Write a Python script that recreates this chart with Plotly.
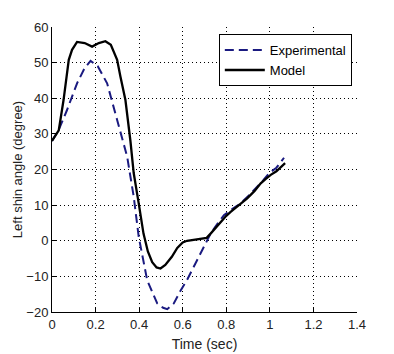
import plotly.graph_objects as go

# experimental (dashed) curve
exp_t = [0, 0.03, 0.069, 0.115, 0.15, 0.177, 0.21, 0.253, 0.299, 0.345, 0.375, 0.398,
         0.437, 0.483, 0.51, 0.529, 0.559, 0.59, 0.62, 0.65, 0.682, 0.728, 0.76, 0.789,
         0.83, 0.866, 0.9, 0.943, 0.97, 0.996, 1.03, 1.065]
exp_y = [28, 31, 36.7, 44.2, 48.5, 50.5, 49, 44.2, 33.9, 23.6, 12.4, 1.1,
         -11.1, -17.6, -18.8, -19.2, -17.6, -14, -11, -7.5, -3.5, 2, 4.8, 7.2,
         9, 10.5, 12.5, 15.2, 17, 18.9, 20.5, 23.3]

# model (solid) curve
mod_t = [0, 0.031, 0.053, 0.077, 0.092, 0.115, 0.15, 0.184, 0.215, 0.245, 0.27, 0.299,
         0.314, 0.337, 0.36, 0.375, 0.398, 0.42, 0.44, 0.46, 0.48, 0.498, 0.52, 0.55,
         0.575, 0.6, 0.62, 0.65, 0.682, 0.71, 0.728, 0.75, 0.774, 0.8, 0.82, 0.86,
         0.896, 0.93, 0.958, 0.98, 1.004, 1.03, 1.07]
mod_y = [28, 31, 39.5, 50.8, 53.6, 55.8, 55.5, 54.5, 55.5, 56, 55, 50.8,
         46.1, 39.5, 28, 19, 10.5, 2, -3, -6, -7.5, -7.8, -6.8, -4.5,
         -2, -0.5, 0, 0.3, 0.45, 0.8, 2, 3.5, 5.3, 7, 8.1, 10,
         11.9, 14, 16.1, 17.3, 18.5, 19.5, 21.8]

x_ticks = [0, 0.2, 0.4, 0.6, 0.8, 1, 1.2, 1.4]
x_labels = ["0", "0.2", "0.4", "0.6", "0.8", "1", "1.2", "1.4"]
y_ticks = [-20, -10, 0, 10, 20, 30, 40, 50, 60]

fig = go.Figure()
fig.add_trace(go.Scatter(x=exp_t, y=exp_y, mode="lines", name="Experimental",
                         line=dict(color="#1a1a80", width=2, dash="9px,5px")))
fig.add_trace(go.Scatter(x=mod_t, y=mod_y, mode="lines", name="Model",
                         line=dict(color="black", width=2.3)))

axis_font = dict(family="Liberation Sans, Arial", size=13, color="#222")
fig.update_xaxes(range=[0, 1.4], tickvals=x_ticks, ticktext=x_labels,
                 showgrid=True, gridcolor="black", griddash="1px,3px", gridwidth=1,
                 showline=True, linecolor="black", linewidth=1,
                 ticks="inside", ticklen=4, tickcolor="black",
                 zeroline=False, tickfont=axis_font, automargin=False,
                 title=dict(text="Time (sec)", standoff=8,
                            font=dict(family="Liberation Sans, Arial", size=14, color="#222")))
fig.update_yaxes(range=[-20, 60], tickvals=y_ticks,
                 showgrid=True, gridcolor="black", griddash="1px,3px", gridwidth=1,
                 showline=True, linecolor="black", linewidth=1,
                 ticks="inside", ticklen=4, tickcolor="black",
                 zeroline=False, tickfont=axis_font, automargin=False,
                 title=dict(text="Left shin angle (degree)", font=axis_font, standoff=0))

# the page puts the figure 8px in from the top-left corner
fig.update_layout(
    width=386, height=346,
    margin=dict(l=44, r=37, t=19, b=42),
    plot_bgcolor="white", paper_bgcolor="white",
    legend=dict(x=0.983, y=0.975, xanchor="right", yanchor="top",
                bgcolor="white", bordercolor="black", borderwidth=1,
                font=dict(family="Liberation Sans, Arial", size=13, color="black"),
                tracegroupgap=0, itemwidth=40),
)

fig.write_html("out.html")
